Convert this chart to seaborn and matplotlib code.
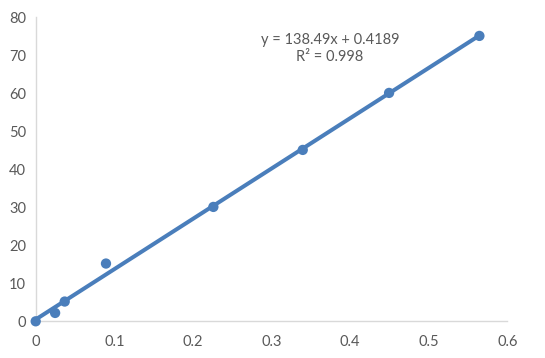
import matplotlib
matplotlib.use("Agg")
import matplotlib.pyplot as plt
import seaborn as sns
import pandas as pd

# Data
x_vals = [0.0, 0.0247, 0.0369, 0.0894, 0.2260, 0.3397, 0.4495, 0.5644]
y_vals = [0.0, 2.2, 5.2, 15.2, 30.1, 45.1, 60.1, 75.1]
x_ticks = [0, 0.1, 0.2, 0.3, 0.4, 0.5, 0.6]
x_tick_labels = ["0", "0.1", "0.2", "0.3", "0.4", "0.5", "0.6"]
y_ticks = [0, 10, 20, 30, 40, 50, 60, 70, 80]
eq_text = "y = 138.49x + 0.4189"
r2_text = "R² = 0.998"

df = pd.DataFrame({"x": x_vals, "y": y_vals})

sns.set_theme(style="white")
plt.rcParams["font.family"] = ["Lato", "DejaVu Sans"]

blue = "#4A7EBB"
grey_txt = "#595959"
grey_axis = "#D9D9D9"

fig = plt.figure(figsize=(5.45, 3.58), dpi=100)
ax = fig.add_axes([0.0655, 0.1025, 0.8655, 0.8492])

sns.regplot(data=df, x="x", y="y", ax=ax, ci=None, truncate=True,
            scatter_kws=dict(s=55, color=blue, edgecolor="none", alpha=1,
                             zorder=3, clip_on=False),
            line_kws=dict(color=blue, lw=2.9, solid_capstyle="butt",
                          zorder=2, clip_on=False))

ax.set_xlim(0, 0.6)
ax.set_ylim(0, 80)
ax.set_xticks(x_ticks)
ax.set_xticklabels(x_tick_labels)
ax.set_yticks(y_ticks)
ax.set_xlabel("")
ax.set_ylabel("")

for s in ["top", "right"]:
    ax.spines[s].set_visible(False)
for s in ["left", "bottom"]:
    ax.spines[s].set_color(grey_axis)
    ax.spines[s].set_linewidth(1.0)
    ax.spines[s].set_zorder(1)

ax.tick_params(axis="both", which="major", direction="out", length=4,
               width=1.0, color=grey_axis, labelcolor=grey_txt, labelsize=10.5)
ax.tick_params(axis="x", pad=6)
ax.tick_params(axis="y", pad=3)
ax.grid(False)

ax.text(0.624, 0.924, eq_text, transform=ax.transAxes, ha="center", va="center",
        fontsize=10.5, color=grey_txt)
ax.text(0.624, 0.869, r2_text, transform=ax.transAxes, ha="center", va="center",
        fontsize=10.5, color=grey_txt)

fig.savefig("out.png", dpi=100)
